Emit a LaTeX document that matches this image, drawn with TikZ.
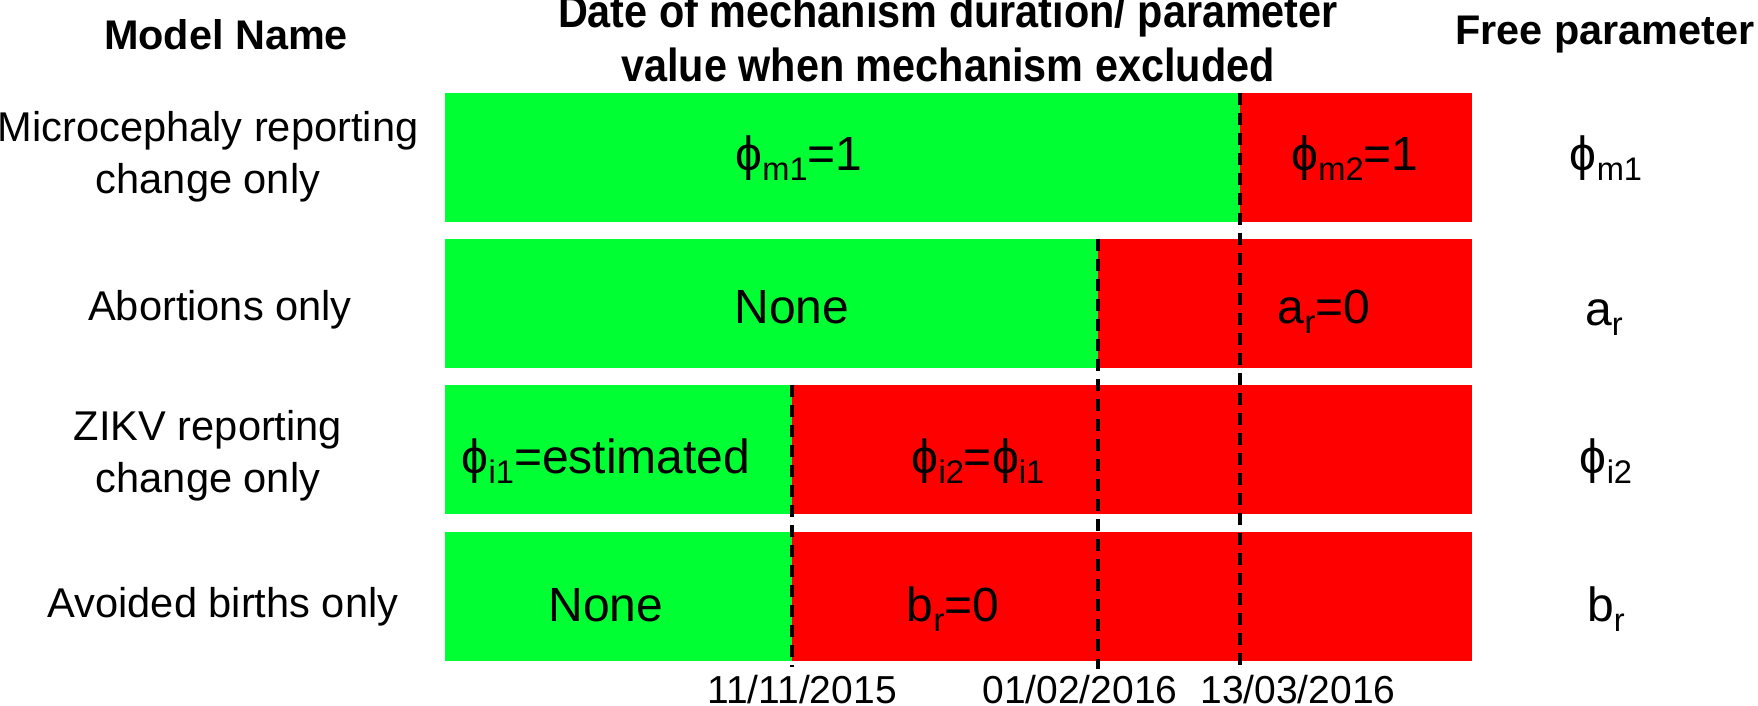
\documentclass[tikz,border=0pt]{standalone}
\usepackage{fontspec}
\setmainfont{Liberation Sans}
\usepackage{graphicx}
\definecolor{zgreen}{RGB}{0,255,51}
\definecolor{zred}{RGB}{255,0,0}
\newcommand{\sub}[1]{\raisebox{-0.22em}{\scalebox{0.68}{#1}}}

\begin{document}
\begin{tikzpicture}[x=0.5pt,y=-0.5pt,
  hdr/.style={font=\fontsize{20.7}{25}\selectfont\bfseries, anchor=base, inner sep=0pt},
  model/.style={font=\fontsize{20.8}{25}\selectfont, anchor=base, inner sep=0pt},
  val/.style={font=\fontsize{24}{28}\selectfont, anchor=base, inner sep=0pt},
  date/.style={font=\fontsize{19.5}{23}\selectfont, anchor=base, inner sep=0pt},
  cut/.style={line width=1.75pt, dash pattern=on 6pt off 4pt}]
\useasboundingbox (0,0) rectangle (1758,706);

% bars
\fill[zgreen] (445,93) rectangle (1240,222);
\fill[zred] (1240,93) rectangle (1472,222);
\fill[zgreen] (445,239) rectangle (1098,368);
\fill[zred] (1098,239) rectangle (1472,368);
\fill[zgreen] (445,385) rectangle (792,514);
\fill[zred] (792,385) rectangle (1472,514);
\fill[zgreen] (445,532) rectangle (792,661);
\fill[zred] (792,532) rectangle (1472,661);

% headings
\node[hdr] (hmodel) at (226,50) {Model Name};
\node[hdr] (hdate) at (948,28) {\scalebox{1}[1.12]{Date of mechanism duration/ parameter}};
\node[hdr] (hdateb) at (948,82) {\scalebox{1}[1.12]{value when mechanism excluded}};
\node[hdr] (hfree) at (1605,45) {Free parameter};

\node[model] (lblA) at (208,142) {Microcephaly reporting};
\node[model] (lblAb) at (208,193) {change only};
\node[model] (lblB) at (220,321) {Abortions only};
\node[model] (lblC) at (208,440) {ZIKV reporting};
\node[model] (lblCb) at (208,492) {change only};
\node[model] (lblD) at (223,617) {Avoided births only};

\node[val] (vA1) at (799,170) {ϕ\sub{m1}=1};
\node[val] (vA2) at (1355,170) {ϕ\sub{m2}=1};
\node[val] (vB1) at (792,323) {None};
\node[val] (vB2) at (1324,323) {a\sub{r}=0};
\node[val] (vC1) at (606,473) {ϕ\sub{i1}=estimated};
\node[val] (vC2) at (978,473) {ϕ\sub{i2}=ϕ\sub{i1}};
\node[val] (vD1) at (606,621) {None};
\node[val] (vD2) at (953,621) {b\sub{r}=0};

\node[val] (fA) at (1606,170) {ϕ\sub{m1}};
\node[val] (fB) at (1604,325) {a\sub{r}};
\node[val] (fC) at (1606,473) {ϕ\sub{i2}};
\node[val] (fD) at (1606,621) {b\sub{r}};

% dates
\node[date] (dA) at (802,703) {11/11/2015};
\node[date] (dB) at (1080,703) {01/02/2016};
\node[date] (dC) at (1298,703) {13/03/2016};

\coordinate (cA) at (792,385);
\coordinate (cAe) at (792,667);
\coordinate (cB) at (1098,239);
\coordinate (cBe) at (1098,669);
\coordinate (cC) at (1240,93);
\coordinate (cCe) at (1240,669);
\draw[cut] (cA) -- (cAe);
\draw[cut] (cB) -- (cBe);
\draw[cut] (cC) -- (cCe);
\end{tikzpicture}
\end{document}
